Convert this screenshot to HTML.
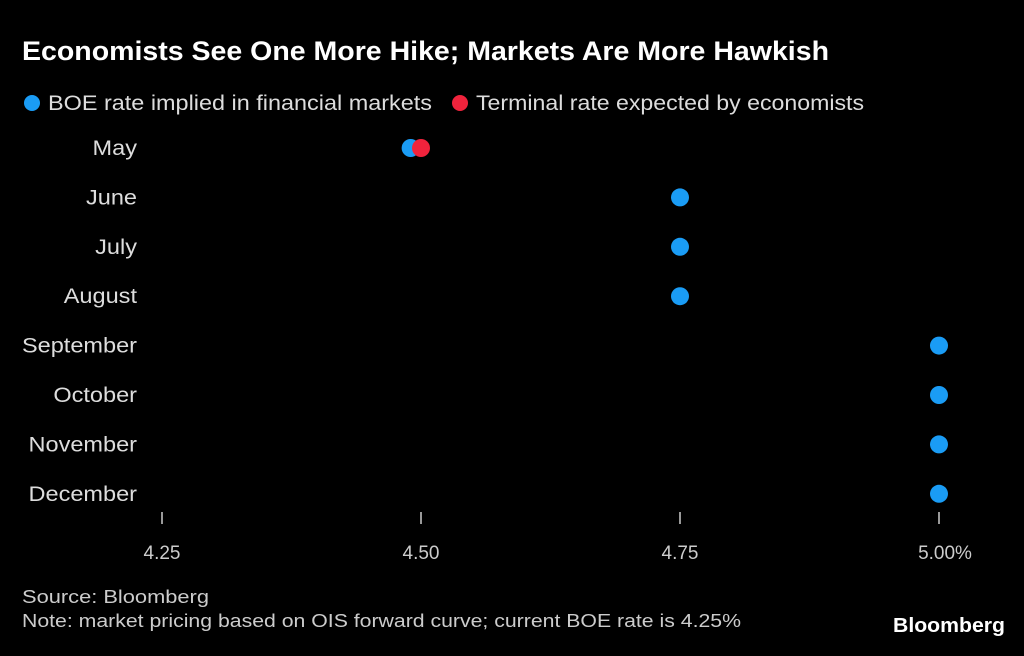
<!DOCTYPE html>
<html><head><meta charset="utf-8"><style>
body{margin:0;background:#000;width:1024px;height:651px;overflow:hidden;font-family:"Liberation Sans",sans-serif}
</style></head><body>
<svg width="1024" height="651" xmlns="http://www.w3.org/2000/svg">
<text x="22" y="60" fill="#fff" font-size="27" font-weight="bold" textLength="807" lengthAdjust="spacingAndGlyphs">Economists See One More Hike; Markets Are More Hawkish</text>
<g>
<circle cx="32" cy="103" r="8" fill="#1a9cf5"/>
<text x="48" y="110" fill="#ddd" font-size="21" textLength="384" lengthAdjust="spacingAndGlyphs">BOE rate implied in financial markets</text>
<circle cx="460" cy="103" r="8" fill="#f0233c"/>
<text x="476" y="110" fill="#ddd" font-size="21" textLength="388" lengthAdjust="spacingAndGlyphs">Terminal rate expected by economists</text>
</g>
<g id="plot"></g>
<text x="22" y="603" fill="#ccc" font-size="18" textLength="187" lengthAdjust="spacingAndGlyphs">Source: Bloomberg</text>
<text x="22" y="627" fill="#ccc" font-size="18" textLength="719" lengthAdjust="spacingAndGlyphs">Note: market pricing based on OIS forward curve; current BOE rate is 4.25%</text>
<text x="1005" y="632" fill="#fff" font-size="20" font-weight="bold" text-anchor="end" textLength="112" lengthAdjust="spacingAndGlyphs">Bloomberg</text>
</svg>
<script>
const months=["May","June","July","August","September","October","November","December"];
const marketRates=[4.49,4.75,4.75,4.75,5.0,5.0,5.0,5.0];
const economistMonths=["May"];
const economistRates=[4.50];
const ticks=[4.25,4.5,4.75,5.0];
const tickLabels=["4.25","4.50","4.75","5.00%"];
const ns="http://www.w3.org/2000/svg";
const g=document.getElementById('plot');
const xs=v=>162+(v-4.25)/0.25*259;
const ys=i=>148+i*49.4;
function mk(t,a){const e=document.createElementNS(ns,t);for(const k in a)e.setAttribute(k,a[k]);g.appendChild(e);return e;}
months.forEach((m,i)=>{
 const t=mk('text',{x:137,y:ys(i)+7,fill:'#ddd','font-size':21,'text-anchor':'end'});t.textContent=m;
 
 
 const w=t.getComputedTextLength();t.setAttribute('textLength',w*1.12);t.setAttribute('lengthAdjust','spacingAndGlyphs');
});
ticks.forEach((v,i)=>{
 const l=mk('line',{x1:xs(v),x2:xs(v),y1:512,y2:524,stroke:'#ccc','stroke-width':1.5});
 
 
 const t=mk('text',{x:xs(v)+(i==3?6:0),y:559,fill:'#ccc','font-size':19,'text-anchor':'middle'});t.textContent=tickLabels[i];
 
 
});
marketRates.forEach((v,i)=>{
 const c=mk('circle',{cx:xs(v),cy:ys(i),r:9,fill:'#1a9cf5'});
 
 
});
economistRates.forEach((v,j)=>{
 const i=months.indexOf(economistMonths[j]);
 const c=mk('circle',{cx:xs(v),cy:ys(i),r:9,fill:'#f0233c'});
 
 
});
</script>
</body></html>
